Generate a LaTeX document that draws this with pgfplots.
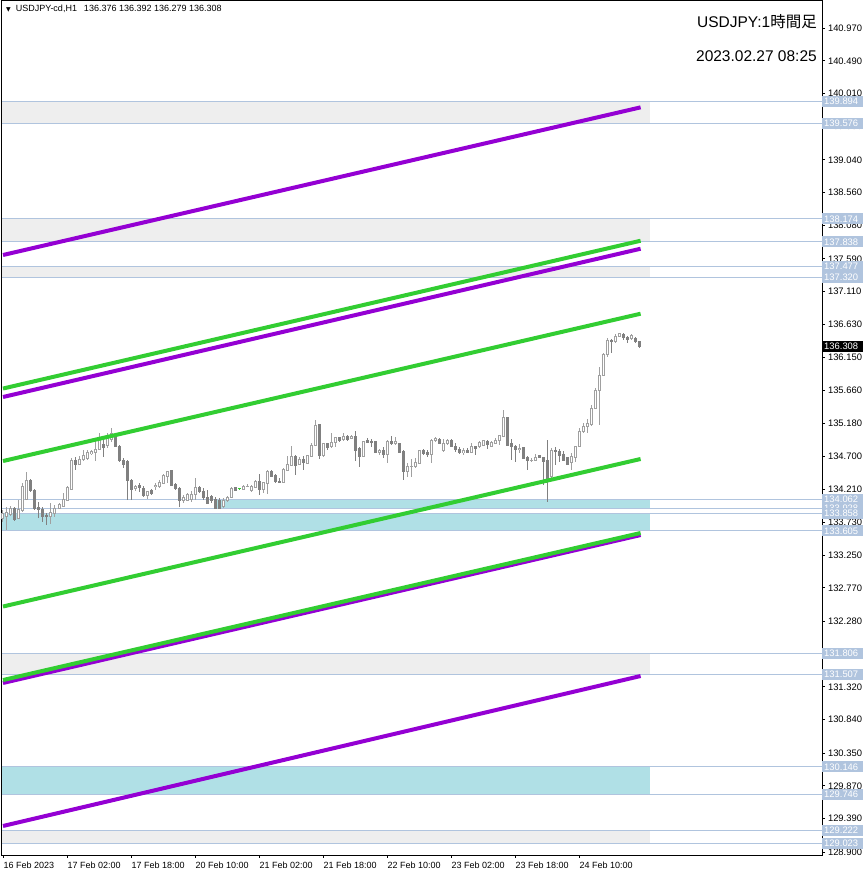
\documentclass[border=0pt]{standalone}
\usepackage{pgfplots}
\pgfplotsset{compat=1.18}
\usepackage{pgfplotstable}
\usepackage{fontspec}
\setmainfont{Liberation Sans}
\newfontfamily\cjk{Noto Sans CJK JP}
\newfontfamily\djv{DejaVu Sans}
\definecolor{zgray}{HTML}{EEEEEE}
\definecolor{zblue}{HTML}{B0E0E6}
\definecolor{lsb}{HTML}{B0C4DE}
\definecolor{tpurple}{HTML}{9400D3}
\definecolor{tgreen}{HTML}{32CD32}
\definecolor{bullc}{HTML}{A0A0A0}
\definecolor{bearc}{HTML}{808080}
\newcommand\sm{\fontsize{9}{11}\selectfont}
\newcommand\smt{\fontsize{9.4}{11}\selectfont}

\pgfplotstableread{
x o h l c
0 133.788 133.910 133.739 133.861
1 133.812 133.958 133.617 133.871
2 133.851 133.968 133.822 133.934
4 133.788 134.056 133.773 133.910
5 133.910 134.300 133.885 134.261
6 134.066 134.471 134.056 134.349
12 133.822 134.007 133.705 133.871
13 133.861 133.983 133.812 133.934
14 133.934 134.017 133.919 133.997
15 133.968 134.154 133.958 134.066
16 134.056 134.261 134.046 134.242
17 134.212 134.666 134.203 134.642
19 134.583 134.701 134.569 134.652
20 134.652 134.789 134.632 134.715
21 134.666 134.789 134.642 134.750
22 134.740 134.789 134.715 134.764
23 134.750 134.935 134.632 134.798
24 134.798 135.042 134.789 134.945
26 134.862 135.033 134.813 134.974
27 134.945 135.106 134.911 135.033
33 134.227 134.276 134.193 134.261
36 134.129 134.193 134.066 134.178
38 134.261 134.300 134.203 134.276
39 134.251 134.349 134.227 134.310
40 134.300 134.437 134.290 134.408
41 134.408 134.486 134.300 134.471
45 134.056 134.129 134.007 134.095
46 134.056 134.164 134.046 134.144
47 134.066 134.193 134.032 134.144
48 134.144 134.374 134.056 134.242
55 133.958 134.081 133.934 134.056
56 134.046 134.115 134.032 134.095
57 134.095 134.242 134.081 134.227
60 134.212 134.276 134.203 134.261
61 134.251 134.286 134.242 134.261
62 134.193 134.276 134.178 134.261
63 134.242 134.349 134.227 134.334
65 134.212 134.325 134.154 134.310
66 134.300 134.496 134.144 134.481
70 134.310 134.520 134.300 134.505
71 134.496 134.701 134.486 134.583
72 134.569 134.847 134.554 134.701
74 134.579 134.681 134.569 134.652
76 134.593 134.715 134.583 134.701
77 134.701 134.896 134.691 134.862
78 134.862 135.228 134.847 135.155
80 134.715 134.896 134.691 134.886
82 134.837 135.042 134.813 134.896
83 134.896 134.984 134.837 134.974
85 134.945 135.033 134.925 134.994
87 134.955 135.008 134.945 134.994
90 134.691 134.925 134.681 134.916
94 134.750 134.798 134.715 134.789
96 134.725 134.935 134.593 134.916
98 134.886 134.974 134.862 134.916
101 134.471 134.593 134.398 134.545
102 134.545 134.652 134.388 134.550
103 134.545 134.666 134.520 134.603
104 134.593 134.789 134.583 134.779
107 134.730 134.945 134.603 134.935
108 134.935 134.984 134.911 134.959
110 134.789 134.945 134.764 134.886
111 134.886 134.945 134.862 134.935
115 134.750 134.813 134.715 134.779
117 134.750 134.896 134.740 134.837
119 134.837 134.925 134.813 134.896
120 134.862 134.935 134.847 134.925
122 134.847 134.925 134.828 134.906
123 134.886 134.960 134.877 134.935
124 134.925 135.008 134.862 134.994
125 134.984 135.375 134.974 135.267
129 134.798 134.877 134.750 134.813
132 134.632 134.667 134.618 134.642
133 134.632 134.730 134.632 134.681
137 134.398 134.813 134.374 134.789
142 134.603 134.750 134.496 134.691
143 134.681 134.847 134.618 134.837
144 134.837 135.106 134.828 135.057
145 135.057 135.179 135.043 135.130
146 135.130 135.238 135.043 135.179
147 135.170 135.448 135.140 135.399
148 135.399 135.692 135.384 135.668
149 135.658 136.009 135.155 135.887
150 135.887 136.214 135.873 136.195
151 136.195 136.424 136.156 136.400
153 136.376 136.488 136.351 136.459
154 136.449 136.507 136.439 136.488
157 136.424 136.488 136.400 136.473
}\bull

\pgfplotstableread{
x o h l c
3 133.934 133.958 133.753 133.773
7 134.349 134.359 134.178 134.193
8 134.203 134.212 133.910 133.934
9 133.949 134.032 133.788 133.910
10 133.910 133.958 133.739 133.812
11 133.836 133.871 133.690 133.812
18 134.642 134.681 134.496 134.583
25 134.862 134.945 134.691 134.828
28 135.008 135.033 134.837 134.847
29 134.847 134.862 134.618 134.632
30 134.642 134.666 134.520 134.583
31 134.618 134.642 134.056 134.339
32 134.349 134.359 134.056 134.203
34 134.276 134.300 134.178 134.242
35 134.227 134.261 134.105 134.129
37 134.193 134.212 134.129 134.154
42 134.486 134.496 134.261 134.276
43 134.290 134.300 134.203 134.227
44 134.227 134.242 133.949 134.056
49 134.242 134.261 134.154 134.178
50 134.178 134.227 134.056 134.095
51 134.095 134.203 133.997 134.007
52 134.105 134.129 134.007 134.056
53 134.071 134.105 133.934 133.934
54 134.056 134.081 133.934 133.934
58 134.242 134.251 134.193 134.203
64 134.334 134.437 134.129 134.212
67 134.481 134.496 134.398 134.408
68 134.422 134.437 134.310 134.325
69 134.334 134.374 134.300 134.310
73 134.701 134.715 134.422 134.569
75 134.652 134.701 134.496 134.603
79 135.169 135.169 134.652 134.715
81 134.886 134.896 134.789 134.823
84 134.974 134.984 134.911 134.925
86 134.994 135.008 134.925 134.945
88 134.994 135.072 134.632 134.789
89 134.808 134.828 134.545 134.691
91 134.925 134.959 134.886 134.896
92 134.916 134.945 134.837 134.896
93 134.916 134.925 134.740 134.750
95 134.789 134.837 134.666 134.725
97 134.916 134.994 134.862 134.886
99 134.886 134.896 134.740 134.750
100 134.764 134.789 134.349 134.471
105 134.779 134.798 134.715 134.740
106 134.750 134.789 134.691 134.725
109 134.945 134.959 134.876 134.886
112 134.935 134.945 134.828 134.837
113 134.847 134.896 134.764 134.789
114 134.798 134.837 134.730 134.754
116 134.789 134.813 134.740 134.750
118 134.837 134.847 134.715 134.813
121 134.911 134.935 134.798 134.876
126 135.267 135.277 134.847 134.862
127 134.877 134.945 134.642 134.847
128 134.847 134.862 134.618 134.789
130 134.823 134.837 134.652 134.667
131 134.681 134.701 134.496 134.632
134 134.701 134.715 134.667 134.681
135 134.681 134.691 134.276 134.618
136 134.642 134.935 134.032 134.374
138 134.789 134.828 134.569 134.764
139 134.774 134.798 134.618 134.715
140 134.730 134.779 134.642 134.642
141 134.681 134.691 134.569 134.584
152 136.400 136.410 136.214 136.376
155 136.488 136.498 136.400 136.439
156 136.439 136.459 136.361 136.410
158 136.424 136.449 136.351 136.376
159 136.376 136.392 136.279 136.308
}\bear

\pgfplotstableread{
x o h l c
59 134.227 134.227 134.203 134.227
}\doji

\begin{document}
\begin{tikzpicture}
\path[use as bounding box] (0,0) rectangle (866pt,876pt);
\begin{axis}[
  at={(2pt,21pt)}, anchor=south west,
  width=820pt, height=854pt, scale only axis,
  xmin=-0.25, xmax=204.75, ymin=128.856, ymax=141.366,
  axis line style={black, line width=1pt},
  xtick={0,16,32,48,64,80,96,112,128,144},
  xticklabels={16 Feb 2023,17 Feb 02:00,17 Feb 18:00,20 Feb 10:00,21 Feb 02:00,21 Feb 18:00,22 Feb 10:00,23 Feb 02:00,23 Feb 18:00,24 Feb 10:00},
  ytick={128.900,129.390,129.870,130.350,130.840,131.320,131.800,132.280,132.770,133.250,133.730,134.210,134.700,135.180,135.660,136.150,136.630,137.110,137.590,138.080,138.560,139.040,139.530,140.010,140.490,140.970},
  yticklabels={128.900,129.390,129.870,130.350,130.840,131.320,131.800,132.280,132.770,133.250,133.730,134.210,134.700,135.180,135.660,136.150,136.630,137.110,137.590,138.080,138.560,139.040,139.530,140.010,140.490,140.970},
  xtick pos=left, xticklabel pos=left,
  ytick pos=right, yticklabel pos=right,
  tick align=outside, major tick length=3pt,
  tick style={black, line width=0.8pt},
  ticklabel style={font=\sm, text=black},
  xticklabel style={anchor=north west, xshift=-3pt},
  yticklabel style={anchor=west, font=\smt, xshift=-0.5pt},
  clip=false,
]
% zones
\addplot[fill=zgray, draw=none, forget plot] coordinates {(-0.25,139.576) (161.75,139.576) (161.75,139.894) (-0.25,139.894)} -- cycle;
\addplot[fill=zgray, draw=none, forget plot] coordinates {(-0.25,137.838) (161.75,137.838) (161.75,138.174) (-0.25,138.174)} -- cycle;
\addplot[fill=zgray, draw=none, forget plot] coordinates {(-0.25,137.320) (161.75,137.320) (161.75,137.477) (-0.25,137.477)} -- cycle;
\addplot[fill=zgray, draw=none, forget plot] coordinates {(-0.25,131.507) (161.75,131.507) (161.75,131.806) (-0.25,131.806)} -- cycle;
\addplot[fill=zgray, draw=none, forget plot] coordinates {(-0.25,129.023) (161.75,129.023) (161.75,129.222) (-0.25,129.222)} -- cycle;
\addplot[fill=zblue, draw=none, forget plot] coordinates {(53.5,133.928) (161.75,133.928) (161.75,134.062) (53.5,134.062)} -- cycle;
\addplot[fill=zblue, draw=none, forget plot] coordinates {(-0.25,133.605) (161.75,133.605) (161.75,133.858) (-0.25,133.858)} -- cycle;
\addplot[fill=zblue, draw=none, forget plot] coordinates {(-0.25,129.746) (161.75,129.746) (161.75,130.146) (-0.25,130.146)} -- cycle;
% horizontal levels
\addplot[lsb, line width=1pt, forget plot] coordinates {(-0.25,139.894) (204.75,139.894)};
\addplot[lsb, line width=1pt, forget plot] coordinates {(-0.25,139.576) (204.75,139.576)};
\addplot[lsb, line width=1pt, forget plot] coordinates {(-0.25,138.174) (204.75,138.174)};
\addplot[lsb, line width=1pt, forget plot] coordinates {(-0.25,137.838) (204.75,137.838)};
\addplot[lsb, line width=1pt, forget plot] coordinates {(-0.25,137.477) (204.75,137.477)};
\addplot[lsb, line width=1pt, forget plot] coordinates {(-0.25,137.320) (204.75,137.320)};
\addplot[lsb, line width=1pt, forget plot] coordinates {(-0.25,134.062) (204.75,134.062)};
\addplot[lsb, line width=1pt, forget plot] coordinates {(-0.25,133.928) (204.75,133.928)};
\addplot[lsb, line width=1pt, forget plot] coordinates {(-0.25,133.858) (204.75,133.858)};
\addplot[lsb, line width=1pt, forget plot] coordinates {(-0.25,133.605) (204.75,133.605)};
\addplot[lsb, line width=1pt, forget plot] coordinates {(-0.25,131.806) (204.75,131.806)};
\addplot[lsb, line width=1pt, forget plot] coordinates {(-0.25,131.507) (204.75,131.507)};
\addplot[lsb, line width=1pt, forget plot] coordinates {(-0.25,130.146) (204.75,130.146)};
\addplot[lsb, line width=1pt, forget plot] coordinates {(-0.25,129.746) (204.75,129.746)};
\addplot[lsb, line width=1pt, forget plot] coordinates {(-0.25,129.222) (204.75,129.222)};
\addplot[lsb, line width=1pt, forget plot] coordinates {(-0.25,129.023) (204.75,129.023)};
% candles: wicks
\addplot[draw=none, forget plot, error bars/.cd, y dir=both, y explicit, error mark=none,
  error bar style={draw=bullc, line width=1pt}]
  table[x=x, y expr={(\thisrow{h}+\thisrow{l})/2}, y error expr={(\thisrow{h}-\thisrow{l})/2}] {\bull};
\addplot[draw=none, forget plot, error bars/.cd, y dir=both, y explicit, error mark=none,
  error bar style={draw=bearc, line width=1pt}]
  table[x=x, y expr={(\thisrow{h}+\thisrow{l})/2}, y error expr={(\thisrow{h}-\thisrow{l})/2}] {\bear};
% bodies
\addplot[draw=none, forget plot, error bars/.cd, y dir=both, y explicit, error mark=none,
  error bar style={draw=bullc, line width=3pt}]
  table[x=x, y expr={(\thisrow{o}+\thisrow{c})/2}, y error expr={(\thisrow{c}-\thisrow{o})/2+0.0073}] {\bull};
\addplot[draw=none, forget plot, error bars/.cd, y dir=both, y explicit, error mark=none,
  error bar style={draw=white, line width=1pt}]
  table[x=x, y expr={(\thisrow{o}+\thisrow{c})/2}, y error expr={max((\thisrow{c}-\thisrow{o})/2-0.0073,0)}] {\bull};
\addplot[draw=none, forget plot, error bars/.cd, y dir=both, y explicit, error mark=none,
  error bar style={draw=bearc, line width=3pt}]
  table[x=x, y expr={(\thisrow{o}+\thisrow{c})/2}, y error expr={(\thisrow{o}-\thisrow{c})/2+0.0073}] {\bear};
\addplot[draw=none, forget plot, error bars/.cd, y dir=both, y explicit, error mark=none,
  error bar style={draw=tgreen, line width=1pt}]
  table[x=x, y expr={(\thisrow{h}+\thisrow{l})/2}, y error expr={(\thisrow{h}-\thisrow{l})/2}] {\doji};
\addplot[draw=none, forget plot, error bars/.cd, y dir=both, y explicit, error mark=none,
  error bar style={draw=tgreen, line width=3pt}]
  table[x=x, y expr={\thisrow{c}}, y error expr={0.0073}] {\doji};
% trend lines
\addplot[tpurple, line width=4pt, forget plot] coordinates {(0,137.645) (159.4,139.808)};
\addplot[tpurple, line width=4pt, forget plot] coordinates {(0,135.565) (159.4,137.737)};
\addplot[tgreen, line width=4pt, forget plot] coordinates {(0,135.689) (159.4,137.854)};
\addplot[tgreen, line width=4pt, forget plot] coordinates {(0,134.627) (159.4,136.785)};
\addplot[tgreen, line width=4pt, forget plot] coordinates {(0,132.496) (159.4,134.657)};
\addplot[tpurple, line width=4pt, forget plot] coordinates {(0,131.376) (159.4,133.543)};
\addplot[tgreen, line width=4pt, forget plot] coordinates {(0,131.419) (159.4,133.573)};
\addplot[tpurple, line width=4pt, forget plot] coordinates {(0,129.281) (159.4,131.478)};
% label anchors
\coordinate (a1) at (axis cs:204.75,139.894);
\coordinate (a2) at (axis cs:204.75,139.576);
\coordinate (a3) at (axis cs:204.75,138.174);
\coordinate (a4) at (axis cs:204.75,137.838);
\coordinate (a5) at (axis cs:204.75,137.477);
\coordinate (a6) at (axis cs:204.75,137.320);
\coordinate (a7) at (axis cs:204.75,136.308);
\coordinate (a8) at (axis cs:204.75,134.062);
\coordinate (a9) at (axis cs:204.75,133.928);
\coordinate (a10) at (axis cs:204.75,133.858);
\coordinate (a11) at (axis cs:204.75,133.605);
\coordinate (a12) at (axis cs:204.75,131.806);
\coordinate (a13) at (axis cs:204.75,131.507);
\coordinate (a14) at (axis cs:204.75,130.146);
\coordinate (a15) at (axis cs:204.75,129.746);
\coordinate (a16) at (axis cs:204.75,129.222);
\coordinate (a17) at (axis cs:204.75,129.023);
\end{axis}
\tikzset{lab/.style={anchor=west, fill=lsb, text=white, font=\smt, inner xsep=2pt, inner ysep=0pt, minimum height=11pt, text width=37pt, align=left}}
\node[lab] at (a1) {139.894};
\node[lab] at (a2) {139.576};
\node[lab] at (a3) {138.174};
\node[lab] at (a4) {137.838};
\node[lab] at (a5) {137.477};
\node[lab] at (a6) {137.320};
\node[lab, fill=black] at (a7) {136.308};
\node[lab] at (a8) {134.062};
\node[lab] at (a9) {133.928};
\node[lab] at (a10) {133.858};
\node[lab] at (a11) {133.605};
\node[lab] at (a12) {131.806};
\node[lab] at (a13) {131.507};
\node[lab] at (a14) {130.146};
\node[lab] at (a15) {129.746};
\node[lab] at (a16) {129.222};
\node[lab] at (a17) {129.023};
% header texts
\node[anchor=base west, font=\sm, inner sep=0pt] at (6pt,864pt) {{\djv\fontsize{6}{7}\selectfont ▼}\hspace{5pt}USDJPY-cd,H1\hspace{7pt}136.376 136.392 136.279 136.308};
\node[anchor=base east, font=\fontsize{15.5}{19}\selectfont, inner sep=0pt] at (817pt,848pt) {USDJPY:1{\cjk 時間足}};
\node[anchor=base east, font=\fontsize{15.5}{19}\selectfont, inner sep=0pt] at (817pt,814pt) {2023.02.27 08:25};
\end{tikzpicture}
\end{document}
